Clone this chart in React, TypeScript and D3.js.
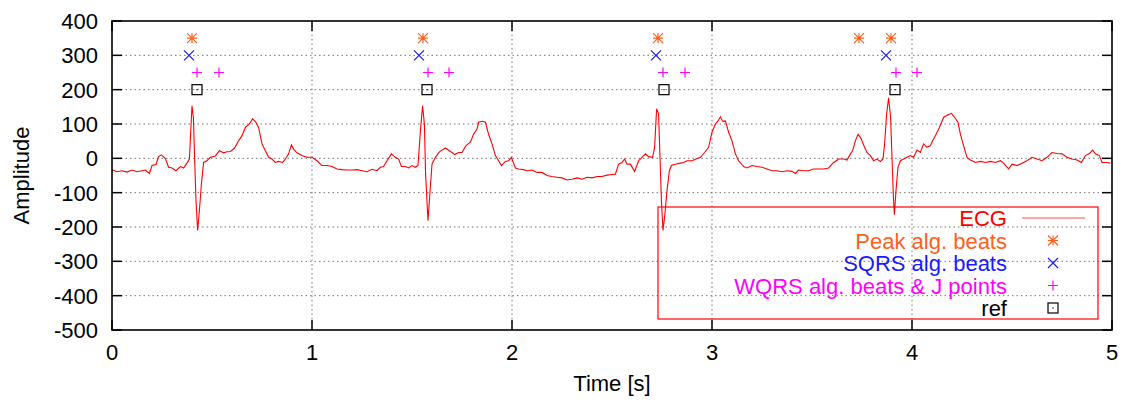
import React from "react";
import * as d3 from "d3";

// ECG trace (time in s, amplitude)
const ecgTime = [
  0.0, 0.025, 0.05, 0.075, 0.1, 0.125, 0.15, 0.167, 0.187, 0.2, 0.22, 0.233, 0.247, 0.267, 0.283, 0.3, 0.32, 0.342,
  0.358, 0.375, 0.387, 0.393, 0.4, 0.407, 0.413, 0.42, 0.428, 0.437, 0.447, 0.458, 0.475, 0.492, 0.517, 0.537, 0.558,
  0.575, 0.592, 0.613, 0.633, 0.65, 0.667, 0.687, 0.703, 0.72, 0.733, 0.75, 0.767, 0.783, 0.8, 0.817, 0.833, 0.853,
  0.867, 0.883, 0.897, 0.908, 0.925, 0.95, 0.975, 1.0, 1.025, 1.05, 1.075, 1.1, 1.125, 1.15, 1.175, 1.2, 1.225, 1.25,
  1.275, 1.3, 1.325, 1.342, 1.358, 1.375, 1.397, 1.417, 1.433, 1.447, 1.467, 1.483, 1.5, 1.517, 1.53, 1.542, 1.553,
  1.562, 1.568, 1.58, 1.588, 1.6, 1.617, 1.637, 1.667, 1.687, 1.7, 1.713, 1.733, 1.75, 1.77, 1.792, 1.808, 1.825,
  1.833, 1.85, 1.867, 1.883, 1.9, 1.917, 1.933, 1.947, 1.967, 1.983, 1.997, 2.017, 2.033, 2.058, 2.075, 2.1, 2.125,
  2.15, 2.175, 2.2, 2.225, 2.25, 2.275, 2.3, 2.325, 2.35, 2.375, 2.4, 2.425, 2.45, 2.475, 2.5, 2.517, 2.533, 2.55,
  2.563, 2.575, 2.592, 2.613, 2.633, 2.65, 2.667, 2.683, 2.703, 2.713, 2.723, 2.733, 2.74, 2.747, 2.755, 2.763, 2.775,
  2.787, 2.797, 2.817, 2.842, 2.858, 2.875, 2.9, 2.92, 2.942, 2.963, 2.983, 3.0, 3.017, 3.03, 3.042, 3.053, 3.067,
  3.083, 3.1, 3.117, 3.133, 3.158, 3.175, 3.2, 3.225, 3.25, 3.275, 3.3, 3.325, 3.35, 3.375, 3.4, 3.417, 3.433, 3.458,
  3.483, 3.508, 3.533, 3.558, 3.583, 3.608, 3.633, 3.658, 3.675, 3.692, 3.703, 3.717, 3.73, 3.742, 3.75, 3.763, 3.775,
  3.792, 3.808, 3.825, 3.842, 3.855, 3.863, 3.873, 3.883, 3.893, 3.9, 3.907, 3.912, 3.92, 3.93, 3.942, 3.958, 3.975,
  3.992, 4.008, 4.025, 4.042, 4.058, 4.075, 4.092, 4.103, 4.117, 4.137, 4.158, 4.18, 4.197, 4.213, 4.23, 4.242, 4.258,
  4.275, 4.292, 4.317, 4.342, 4.367, 4.392, 4.417, 4.442, 4.458, 4.483, 4.5, 4.525, 4.55, 4.575, 4.6, 4.625, 4.65,
  4.675, 4.7, 4.725, 4.75, 4.775, 4.8, 4.825, 4.847, 4.867, 4.887, 4.903, 4.917, 4.937, 4.95, 4.975, 4.992,
];
const ecgAmp = [
  -33, -39, -36, -40, -34, -39, -36, -34, -44, -21, -18, 5, 10, -1, -26, -28, -36, -24,
  -28, -14, -2, 70, 153, 119, 3, -123, -210, -152, -75, -12, -7, 3, 7, 22, 16,
  19, 20, 30, 51, 66, 90, 100, 115, 105, 90, 42, 22, 3, -2, -12, -9, -12,
  -2, 13, 39, 27, 16, 8, 3, 3, -7, -21, -21, -24, -31, -33, -34, -34, -33, -36,
  -39, -32, -36, -26, -24, -7, 13, 3, -2, -24, -24, -28, -21, -26, -21, 80, 153,
  99, -46, -182, -114, -17, 3, 19, 30, 22, 17, 11, 17, 17, 37, 47, 70, 85,
  105, 108, 105, 70, 42, 8, -7, -21, -9, -7, 3, -28, -31, -33, -36, -34, -41,
  -41, -50, -53, -55, -57, -63, -61, -57, -61, -55, -57, -53, -53, -49, -47, -46, -17, -12,
  -2, -17, -17, -38, -7, 3, 13, 5, 3, 32, 144, 129, 3, -123, -210, -171, -94,
  -36, -21, -17, -14, -12, -7, -7, -2, 3, 17, 32, 76, 100, 109, 121, 108, 109,
  76, 51, 13, -7, -24, -28, -21, -24, -26, -31, -36, -36, -39, -36, -38, -44, -34, -36,
  -36, -31, -31, -31, -28, -12, -2, -2, -5, 13, 22, 51, 70, 61, 51, 32, 17,
  8, -7, -2, -9, -2, 42, 129, 176, 119, 3, -114, -164, -94, -26, -7, -2, 3,
  8, 3, 24, 17, 42, 32, 37, 51, 66, 90, 119, 127, 131, 119, 105, 70, 37,
  3, -5, -12, -9, -12, -9, -12, -7, -14, -31, -17, -21, -14, -7, 3, -2, -7,
  3, 17, 14, 13, 3, -2, -5, -12, 8, 14, 24, 13, 8, -12, -12, -14,
];

// detected beats (time in s) and the level each series is plotted at
const peakBeats = [0.4, 1.555, 2.73, 3.735, 3.895];
const peakLevel = 350;
const sqrsBeats = [0.385, 1.535, 2.72, 3.87];
const sqrsLevel = 300;
const wqrsPoints = [0.425, 0.535, 1.58, 1.685, 2.755, 2.865, 3.92, 4.025];
const wqrsLevel = 250;
const refBeats = [0.425, 1.575, 2.76, 3.915];
const refLevel = 200;

const xTicks = [0, 1, 2, 3, 4, 5];
const yTicks = [-500, -400, -300, -200, -100, 0, 100, 200, 300, 400];

const legendLabels = ["ECG", "Peak alg. beats", "SQRS alg. beats", "WQRS alg. beats & J points", "ref"];

const width = 1126;
const height = 400;
const margin = { top: 21, right: 14, bottom: 70, left: 112 };
const innerWidth = width - margin.left - margin.right;
const innerHeight = height - margin.top - margin.bottom;

const colors = {
  ecg: "#ff0000",
  peak: "#ff6020",
  sqrs: "#1a1aff",
  wqrs: "#ff00ff",
  ref: "#000000",
};

const font = "'Liberation Sans', Arial, sans-serif";
const fontSize = 22;

function Marker({ kind, x, y, color }: { kind: string; x: number; y: number; color: string }) {
  const r = 5;
  const plus = `M${x - r},${y}H${x + r}M${x},${y - r}V${y + r}`;
  const times = `M${x - r},${y - r}L${x + r},${y + r}M${x - r},${y + r}L${x + r},${y - r}`;
  if (kind === "peak") return <path d={plus + times} stroke={color} strokeWidth={1.2} fill="none" />;
  if (kind === "sqrs") return <path d={times} stroke={color} strokeWidth={1.2} fill="none" />;
  if (kind === "wqrs") return <path d={plus} stroke={color} strokeWidth={1.2} fill="none" />;
  return (
    <g>
      <rect x={x - r} y={y - r} width={2 * r} height={2 * r} stroke={color} strokeWidth={1.2} fill="none" />
      <rect x={x - 0.6} y={y - 0.6} width={1.2} height={1.2} fill={color} />
    </g>
  );
}

export default function App() {
  const x = d3.scaleLinear().domain([0, 5]).range([0, innerWidth]);
  const y = d3.scaleLinear().domain([-500, 400]).range([innerHeight, 0]);

  const ecgData = ecgTime.map((t, i) => [t, ecgAmp[i]] as [number, number]);
  const line = d3
    .line<[number, number]>()
    .x((d) => x(d[0]))
    .y((d) => y(d[1]));

  const markerSets = [
    { kind: "peak", times: peakBeats, level: peakLevel, color: colors.peak },
    { kind: "sqrs", times: sqrsBeats, level: sqrsLevel, color: colors.sqrs },
    { kind: "wqrs", times: wqrsPoints, level: wqrsLevel, color: colors.wqrs },
    { kind: "ref", times: refBeats, level: refLevel, color: colors.ref },
  ];

  const legendColors = [colors.ecg, colors.peak, colors.sqrs, colors.wqrs, colors.ref];
  const legend = { x: 658 - margin.left, y: 207 - margin.top, w: 440, h: 112, row: 22.5 };
  const tickLen = 10;

  return (
    <div style={{ position: "absolute", left: 0, top: 0 }}>
      <svg width={width} height={height} style={{ display: "block", background: "#fff" }}>
        <g transform={`translate(${margin.left},${margin.top})`}>
          {/* grid */}
          {xTicks.slice(1, -1).map((t) => (
            <line key={`gx${t}`} x1={x(t)} x2={x(t)} y1={0} y2={innerHeight} stroke="#777" strokeWidth={1} strokeDasharray="1.5,3" />
          ))}
          {yTicks.slice(1, -1).map((v) => (
            <line key={`gy${v}`} x1={0} x2={innerWidth} y1={y(v)} y2={y(v)} stroke="#777" strokeWidth={1} strokeDasharray="1.5,3" />
          ))}

          {/* ticks on all four sides */}
          {xTicks.map((t) => (
            <g key={`tx${t}`}>
              <line x1={x(t)} x2={x(t)} y1={innerHeight} y2={innerHeight - tickLen} stroke="#000" strokeWidth={1.5} />
              <line x1={x(t)} x2={x(t)} y1={0} y2={tickLen} stroke="#000" strokeWidth={1.5} />
              <text x={x(t)} y={innerHeight + 30} textAnchor="middle" fontFamily={font} fontSize={fontSize}>
                {t}
              </text>
            </g>
          ))}
          {yTicks.map((v) => (
            <g key={`ty${v}`}>
              <line x1={0} x2={tickLen} y1={y(v)} y2={y(v)} stroke="#000" strokeWidth={1.5} />
              <line x1={innerWidth} x2={innerWidth - tickLen} y1={y(v)} y2={y(v)} stroke="#000" strokeWidth={1.5} />
              <text x={-14} y={y(v) + 8} textAnchor="end" fontFamily={font} fontSize={fontSize}>
                {v}
              </text>
            </g>
          ))}

          {/* ECG trace */}
          <path d={line(ecgData) ?? ""} fill="none" stroke={colors.ecg} strokeWidth={1.1} />

          {/* beat markers */}
          {markerSets.map((s) =>
            s.times.map((t, i) => <Marker key={`${s.kind}${i}`} kind={s.kind} x={x(t)} y={y(s.level)} color={s.color} />)
          )}

          {/* frame */}
          <rect x={0} y={0} width={innerWidth} height={innerHeight} fill="none" stroke="#000" strokeWidth={1.6} />

          {/* legend */}
          <rect x={legend.x} y={legend.y} width={legend.w} height={legend.h} fill="none" stroke={colors.ecg} strokeWidth={1.2} />
          {legendLabels.map((label, i) => {
            const cy = legend.y + 11 + i * legend.row;
            return (
              <g key={label}>
                <text x={1007 - margin.left} y={cy + 8} textAnchor="end" fontFamily={font} fontSize={fontSize} fill={legendColors[i]}>
                  {label}
                </text>
                {i === 0 ? (
                  <line x1={1022 - margin.left} x2={1085 - margin.left} y1={cy} y2={cy} stroke="#ff5050" strokeWidth={1.2} />
                ) : (
                  <Marker kind={markerSets[i - 1].kind} x={1053 - margin.left} y={cy} color={legendColors[i]} />
                )}
              </g>
            );
          })}
        </g>

        {/* axis titles */}
        <text x={margin.left + innerWidth / 2} y={391} textAnchor="middle" fontFamily={font} fontSize={fontSize}>
          Time [s]
        </text>
        <text
          transform={`translate(29,${margin.top + innerHeight / 2}) rotate(-90)`}
          textAnchor="middle"
          fontFamily={font}
          fontSize={fontSize}
        >
          Amplitude
        </text>
      </svg>
    </div>
  );
}
